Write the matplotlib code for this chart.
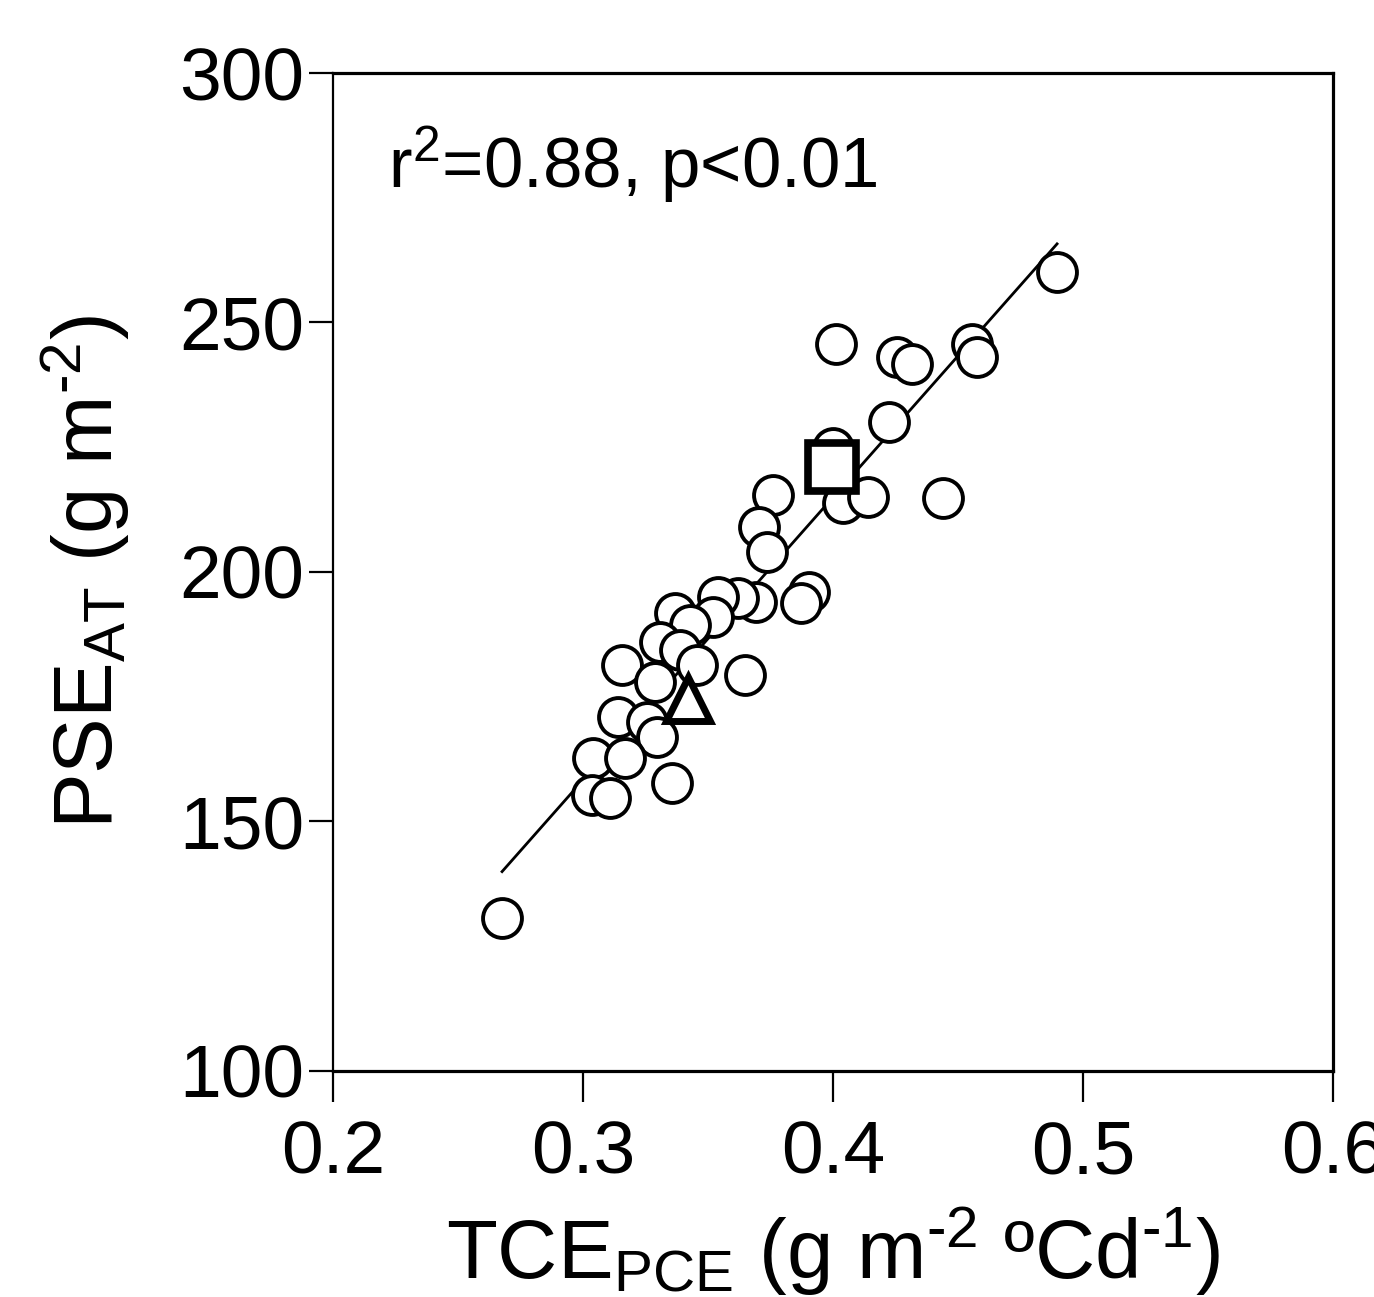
import numpy as np
import matplotlib
matplotlib.use("Agg")
import matplotlib.pyplot as plt

plt.rcParams['font.family'] = ['Liberation Sans', 'DejaVu Sans']
plt.rcParams['mathtext.fontset'] = 'custom'
plt.rcParams['mathtext.rm'] = 'Liberation Sans'
plt.rcParams['mathtext.it'] = 'Liberation Sans'
plt.rcParams['mathtext.default'] = 'regular'

# site points (TCE, PSE)
tce = np.array([0.4896, 0.4012, 0.4256, 0.4316, 0.4556, 0.4576, 0.4224, 0.4000,
                0.3760, 0.3704, 0.3736, 0.4040, 0.4140, 0.4440, 0.3904, 0.3872,
                0.3692, 0.3620, 0.3540, 0.3520, 0.3368, 0.3428, 0.3308, 0.3388,
                0.3456, 0.3156, 0.3288, 0.3648, 0.3140, 0.3256, 0.3296, 0.3040,
                0.3168, 0.3356, 0.3036, 0.3108, 0.2676])
pse = np.array([260.1, 245.7, 243.1, 241.7, 245.7, 243.1, 230.1, 224.8,
                215.4, 209.0, 204.0, 213.8, 215.0, 214.8, 196.0, 193.8,
                194.0, 194.8, 195.0, 191.0, 191.8, 189.4, 186.0, 184.4,
                181.4, 181.4, 178.0, 179.4, 170.9, 169.9, 166.9, 162.7,
                162.7, 157.7, 155.3, 154.7, 130.7])

# highlighted points
tri_x, tri_y = [0.342], [174.5]
sq_x, sq_y = [0.3995], [221.1]

# regression line
fit_slope = 566.7
fit_intercept = -11.7

xticks = [0.2, 0.3, 0.4, 0.5, 0.6]
yticks = [100, 150, 200, 250, 300]

fig = plt.figure(figsize=(13.74, 12.97), dpi=100)
ax = fig.add_axes([0.2424, 0.1743, 0.7278, 0.7694])

xl = np.array([tce.min(), tce.max()])
ax.plot(xl, fit_slope * xl + fit_intercept, color='black', lw=2.0, zorder=1)

ax.plot(tce, pse, 'o', ms=28, mfc='white', mec='black', mew=2.8, zorder=2)
ax.plot(tri_x, tri_y, '^', ms=32, mfc='white', mec='black', mew=5.0, zorder=3)
ax.plot(sq_x, sq_y, 's', ms=34, mfc='white', mec='black', mew=5.5, zorder=3)

ax.set_xlim(0.2, 0.6)
ax.set_ylim(100, 300)
ax.set_xticks(xticks)
ax.set_xticklabels(['0.2', '0.3', '0.4', '0.5', '0.6'])
ax.set_yticks(yticks)
ax.tick_params(axis='x', direction='out', length=22, width=1.6, labelsize=54, pad=13)
ax.tick_params(axis='y', direction='out', length=17, width=1.6, labelsize=54, pad=4)
for s in ['top', 'right', 'bottom']:
    ax.spines[s].set_linewidth(2.3)
ax.spines['left'].set_linewidth(1.6)

ax.set_xlabel(r'TCE$_{\rm PCE}$ (g m$^{\text{-2}}$ ºCd$^{\text{-1}}$)', fontsize=60, labelpad=12)
ax.set_ylabel(r'PSE$_{\rm AT}$ (g m$^{\text{-2}}$)', fontsize=60, labelpad=34)

ax.text(0.055, 0.885, r'r$^{\rm 2}$=0.88, p<0.01', transform=ax.transAxes,
        fontsize=51, va='baseline', ha='left')

# fragment of neighbouring panel's label at the left edge
fig.text(-0.012, 0.13, ')', fontsize=36, ha='left', va='center')

fig.savefig('out.png', dpi=100)
